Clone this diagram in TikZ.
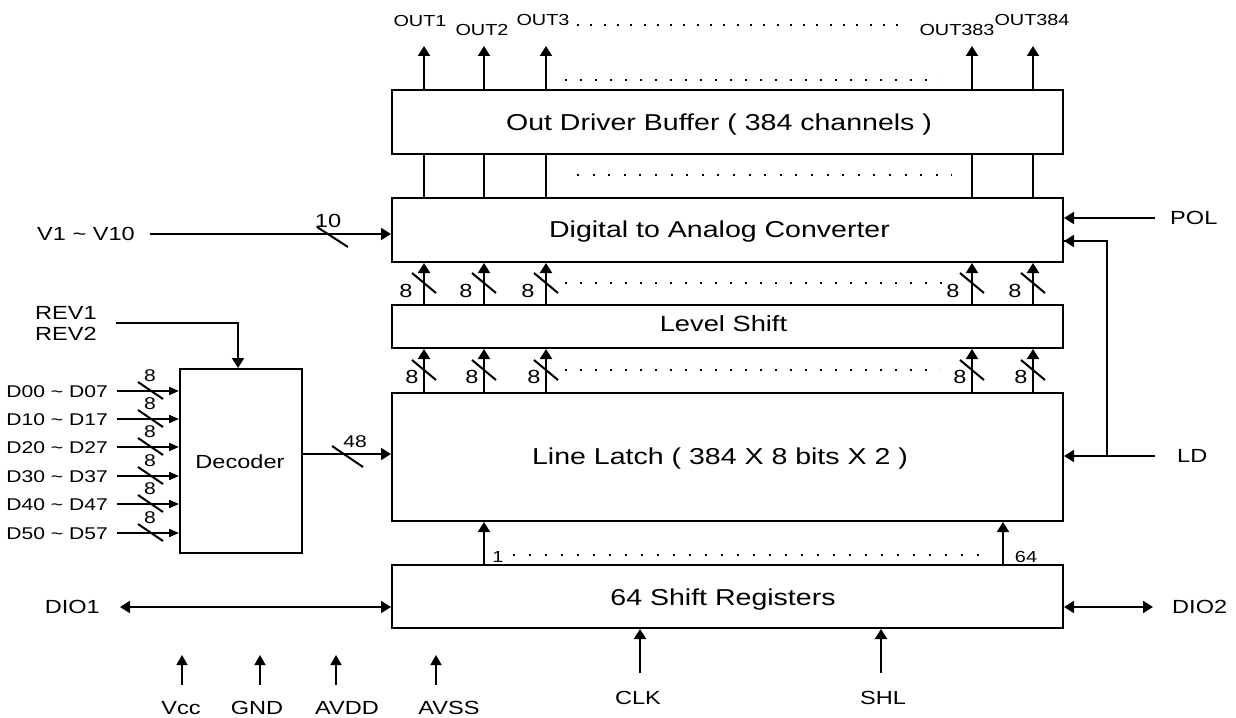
\documentclass[tikz,border=0pt]{standalone}
\usepackage{fontspec}
\setmainfont{Liberation Sans}[FakeStretch=1.24]
\usetikzlibrary{arrows.meta}
\newcommand{\myfs}[1]{\fontsize{#1}{#1}\selectfont}
\begin{document}
\begin{tikzpicture}[x=1pt,y=-1pt,
  box/.style={draw,line width=2pt,inner sep=0pt},
  wire/.style={line width=2pt},
  arr/.style={wire,-{Triangle[length=10pt,width=12pt]}},
  darr/.style={wire,{Triangle[length=10pt,width=12pt]}-{Triangle[length=10pt,width=12pt]}},
  sarr/.style={wire,-{Triangle[length=10pt,width=8pt]}},
  parr/.style={line width=1.6pt,-{Triangle[length=10pt,width=11pt]}},
  dotrow/.style={line width=2pt,dash pattern=on 2pt off #1},
  txtbig/.style={inner sep=0pt,text height=16.5pt,text depth=0pt,font=\myfs{23}},
  txtls/.style={inner sep=0pt,text height=15.8pt,text depth=0pt,font=\myfs{22}},
  txtmid/.style={inner sep=0pt,text height=13.6pt,text depth=0pt,font=\myfs{19}},
  txtd/.style={inner sep=0pt,text height=12.2pt,text depth=0pt,font=\myfs{17}},
  txtout/.style={inner sep=0pt,text height=11.5pt,text depth=0pt,font=\myfs{16}},
  txtsm/.style={inner sep=0pt,text height=11pt,text depth=0pt,font=\myfs{16}}
]
\useasboundingbox[fill=white] (0,0) rectangle (1236,717);

% main blocks
\node[box,minimum width=671pt,minimum height=64pt] (odb) at (727.5,122) {};
\node[txtbig] (odbt) at (719,122) {Out Driver Buffer ( 384 channels )};
\node[box,minimum width=671pt,minimum height=64pt] (dac) at (727.5,230) {};
\node[txtbig] (dact) at (719.5,229) {Digital to Analog Converter};
\node[box,minimum width=671pt,minimum height=43pt] (ls) at (727.5,326.5) {};
\node[txtls] (lst) at (723.5,324) {Level Shift};
\node[box,minimum width=671pt,minimum height=128pt] (ll) at (727.5,457) {};
\node[txtbig] (llt) at (720,456) {Line Latch ( 384 X 8 bits X 2 )};
\node[box,minimum width=671pt,minimum height=63pt] (sr) at (727.5,596.5) {};
\node[txtbig] (srt) at (723,597) {64 Shift Registers};
\node[box,minimum width=122pt,minimum height=184pt] (dec) at (241,461) {};
\node[txtmid] (dect) at (240,462) {Decoder};

% output labels
\node[txtout] (o1) at (420,21) {OUT1};
\node[txtout] (o2) at (482,30) {OUT2};
\node[txtout] (o3) at (543,20) {OUT3};
\node[txtout] (o383) at (957,30) {OUT383};
\node[txtout] (o384) at (1032,20) {OUT384};

% channel columns
\foreach \x [count=\i] in {424,484,546,972,1033} {
  \coordinate (k\i) at (\x,0);
  \draw[arr] (k\i |- odb.north) -- ++(0,-43);
  \draw[wire] (k\i |- dac.north) -- (k\i |- odb.south);
  \draw[arr] (k\i |- ls.north) -- (k\i |- dac.south);
  \draw[wire] (\x-12,273) -- (\x+12,293);
  \draw[arr] (k\i |- ll.north) -- (k\i |- ls.south);
  \draw[wire] (\x-12,360) -- (\x+12,380);
}
\foreach \x [count=\i] in {406,466,528,953,1015} {
  \node[txtmid] (ua\i) at (\x,291) {8};
}
\foreach \x [count=\i] in {412,472,534,960,1021} {
  \node[txtmid] (la\i) at (\x,377) {8};
}

% dotted rows
\draw[dotrow=11.3pt] (577,25) -- (905,25);
\draw[dotrow=13pt] (565,80) -- (940,80);
\draw[dotrow=13.6pt] (577,175) -- (952,175);
\draw[dotrow=13pt] (565,283) -- (944,283);
\draw[dotrow=13pt] (565,370) -- (940,370);
\draw[dotrow=14pt] (513,555) -- (982,555);

% V1 ~ V10
\node[txtmid,anchor=east] (v) at (135,234) {V1 \textasciitilde{} V10};
\draw[arr] ([xshift=15pt]v.east) -- (v.east -| dac.west);
\draw[wire] (317,227) -- (348,247);
\node[txtmid] (v10) at (328,221) {10};

% POL and LD
\node[txtmid,anchor=west] (pol) at (1170,218) {POL};
\draw[arr] ([xshift=-15pt]pol.west) -- (pol.west -| dac.east);
\node[txtmid,anchor=west] (ld) at (1177,456) {LD};
\draw[arr] ([xshift=-22pt]ld.west) -- (ld.west -| ll.east);
\coordinate (br) at (1107,456);
\draw[wire] (br) |- ([yshift=-11pt]dac.east);
\draw[arr] (1108,241) -- ([yshift=-11pt]dac.east);

% REV
\node[txtmid,anchor=west] (rev1) at (35,313) {REV1};
\node[txtmid,anchor=west] (rev2) at (35,334) {REV2};
\coordinate (revp) at (116,323);
\coordinate (revc) at (238,323);
\draw[arr] (revp) -- (revc) -- (revc |- dec.north);

% decoder inputs
\foreach \y/\t [count=\i] in {391/D00 \textasciitilde{} D07,419/D10 \textasciitilde{} D17,447/D20 \textasciitilde{} D27,476/D30 \textasciitilde{} D37,504/D40 \textasciitilde{} D47,533/D50 \textasciitilde{} D57} {
  \node[txtd,anchor=east] (d\i) at (108,\y) {\t};
  \draw[sarr] ([xshift=9pt]d\i.east) -- (d\i.east -| dec.west);
  \draw[wire] (138,\y-9) -- (163,\y+8);
  \node[txtd] (e\i) at (150,\y-16) {8};
}

% decoder to line latch
\coordinate (dA) at ([yshift=7pt]dec.east);
\draw[arr] (dA) -- (dA -| ll.west);
\draw[wire] (332,446) -- (363,467);
\node[txtd] (n48) at (355,441) {48};

% shift registers to line latch
\coordinate (s1) at (484,0);
\coordinate (s2) at (1003,0);
\draw[arr] (s1 |- sr.north) -- (s1 |- ll.south);
\draw[arr] (s2 |- sr.north) -- (s2 |- ll.south);
\node[txtsm] (one) at (498,557) {1};
\node[txtsm] (sixfour) at (1026,557) {64};

% DIO
\node[txtmid,anchor=east] (dio1) at (100,607) {DIO1};
\draw[darr] ([xshift=20pt]dio1.east) -- (dio1.east -| sr.west);
\node[txtmid,anchor=west] (dio2) at (1172,607) {DIO2};
\draw[darr] (dio2.west -| sr.east) -- ([xshift=-19pt]dio2.west);

% CLK, SHL
\node[txtmid] (clk) at (638,698) {CLK};
\coordinate (clkp) at ([xshift=2pt,yshift=25pt]clk.center);
\draw[arr] (clkp) -- (clkp |- sr.south);
\node[txtmid] (shl) at (883,698) {SHL};
\coordinate (shlp) at ([xshift=-2pt,yshift=25pt]shl.center);
\draw[arr] (shlp) -- (shlp |- sr.south);

% power pins
\foreach \n/\t/\x/\o in {vcc/Vcc/181/1,gnd/GND/257/3,avdd/AVDD/347/-11,avss/AVSS/449/-13} {
  \node[txtmid] (\n) at (\x,708) {\t};
  \coordinate (\n p) at ([xshift=\o pt,yshift=23pt]\n.center);
  \draw[parr] (\n p) -- ++(0,-30);
}
\end{tikzpicture}
\end{document}
